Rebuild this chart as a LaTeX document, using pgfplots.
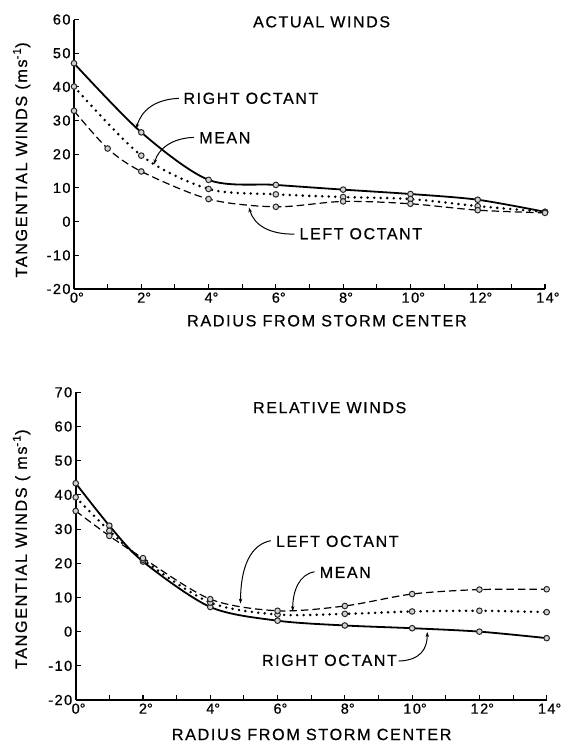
\documentclass[border=0pt]{standalone}
\usepackage{fontspec}
\setmainfont{Liberation Sans}[LetterSpace=10, FakeBold=0.6]
\usepackage{pgfplots}
\usepackage{pgfplotstable}
\pgfplotsset{compat=1.18}
\usetikzlibrary{arrows.meta}

% Actual winds
\pgfplotstableread{
x y
0 47.0
2 26.5
4 12.4
6 10.9
8 9.5
10 8.2
12 6.5
14 2.9
}\actright
\pgfplotstableread{
x y
0 40.1
2 19.6
4 9.7
6 8.1
8 7.3
10 6.7
12 4.6
14 2.9
}\actmean
\pgfplotstableread{
x y
0 32.9
1 21.7
2 14.9
4 6.7
6 4.4
8 6.0
10 5.3
12 3.4
14 2.6
}\actleft
% Relative winds
\pgfplotstableread{
x y
0 43.4
1 31.0
2 20.5
4 7.2
6 3.2
8 1.8
10 1.0
12 0.0
14 -1.9
}\relright
\pgfplotstableread{
x y
0 39.3
1 29.5
2 21.0
4 8.5
6 5.0
8 5.2
10 5.9
12 6.1
14 5.7
}\relmean
\pgfplotstableread{
x y
0 35.3
1 28.0
2 21.5
4 9.5
6 6.1
8 7.5
10 11.0
12 12.3
14 12.4
}\relleft

\tikzset{lead/.style={black, line width=1bp, -{Stealth[length=5bp,width=3.5bp]}}}
\pgfplotsset{
  winds/.style={
    scale only axis, width=471bp,
    axis lines*=left,
    axis line style={-, line width=1.6bp},
    xmin=0, xmax=14,
    xtick={0,2,...,14},
    minor xtick={1,3,...,13},
    xticklabels={0\rlap{°},2\rlap{°},4\rlap{°},6\rlap{°},8\rlap{°},10\rlap{°},12\rlap{°},14\rlap{°}},
    tick style={line width=1.1bp, black},
    major tick length=5bp, minor tick length=5bp,
    tick align=inside,
    /pgf/number format/assume math mode=true,
    clip=false,
    tick label style={font=\fontsize{14.5bp}{16bp}\selectfont},
    label style={font=\fontsize{16.2bp}{18bp}\selectfont},
    xlabel={RADIUS FROM STORM CENTER},
  },
  mk/.style={mark=*, mark size=2.8bp, mark options={solid, fill=gray!35, draw=black!85, line width=1bp}},
  rightst/.style={black, line width=1.8bp, smooth, mk},
  meanst/.style={black, line width=2.8bp, line cap=round, dash pattern=on 0bp off 6.5bp, smooth, mk},
  leftst/.style={black, line width=1.2bp, dash pattern=on 7.5bp off 4bp, smooth, mk},
}

\begin{document}
\begin{tikzpicture}[font=\fontsize{16bp}{18bp}\selectfont]
\useasboundingbox (0,0) rectangle (562bp,-746bp);

\begin{axis}[winds,
  at={(74bp,-289bp)}, anchor=south west,
  height=269.5bp,
  ymin=-20, ymax=60, ytick={-20,-10,...,60},
  ylabel={TANGENTIAL WINDS (ms\textsuperscript{-1})},
  ylabel style={at={(axis description cs:-0.111,0.479)}, anchor=center},
  xlabel style={at={(axis description cs:0.537,-0.118)}, anchor=center},
]
\addplot[rightst] table {\actright};
\addplot[meanst] table {\actmean};
\addplot[leftst] table {\actleft};
\node at (axis cs:7.36,59.3) {ACTUAL WINDS};
\node[anchor=west] at (axis cs:3.15,36.6) {RIGHT OCTANT};
\draw[lead] (axis cs:3.12,36.6) .. controls (axis cs:2.4,36.3) and (axis cs:2.0,33) .. (axis cs:1.85,27.6);
\node[anchor=west] at (axis cs:3.62,24.9) {MEAN};
\draw[lead] (axis cs:3.56,25.0) .. controls (axis cs:2.9,24.8) and (axis cs:2.5,21.5) .. (axis cs:2.38,17.0);
\node[anchor=west] at (axis cs:6.6,-3.6) {LEFT OCTANT};
\draw[lead] (axis cs:6.55,-3.7) .. controls (axis cs:5.8,-3.8) and (axis cs:5.35,-1.0) .. (axis cs:5.2,4.2);
\end{axis}

\begin{axis}[winds,
  at={(75.7bp,-700bp)}, anchor=south west,
  height=307.7bp,
  ymin=-20, ymax=70, ytick={-20,-10,...,70},
  ylabel={TANGENTIAL WINDS ( ms\textsuperscript{-1})},
  ylabel style={at={(axis description cs:-0.115,0.49)}, anchor=center},
  xlabel style={at={(axis description cs:0.501,-0.112)}, anchor=center},
]
\addplot[rightst] table {\relright};
\addplot[meanst] table {\relmean};
\addplot[leftst] table {\relleft};
\node at (axis cs:7.55,65.5) {RELATIVE WINDS};
\node[anchor=west] at (axis cs:5.85,26.4) {LEFT OCTANT};
\draw[lead] (axis cs:5.8,26.6) .. controls (axis cs:5.2,25.5) and (axis cs:4.9,19) .. (axis cs:4.9,8.2);
\node[anchor=west] at (axis cs:7.15,17.3) {MEAN};
\draw[lead] (axis cs:7.1,17.5) .. controls (axis cs:6.65,16.8) and (axis cs:6.45,12) .. (axis cs:6.45,6.0);
\node[anchor=east] at (axis cs:9.65,-8.4) {RIGHT OCTANT};
\draw[lead] (axis cs:9.6,-8.6) .. controls (axis cs:10.25,-8.4) and (axis cs:10.45,-5) .. (axis cs:10.45,-0.1);
\end{axis}
\end{tikzpicture}
\end{document}
